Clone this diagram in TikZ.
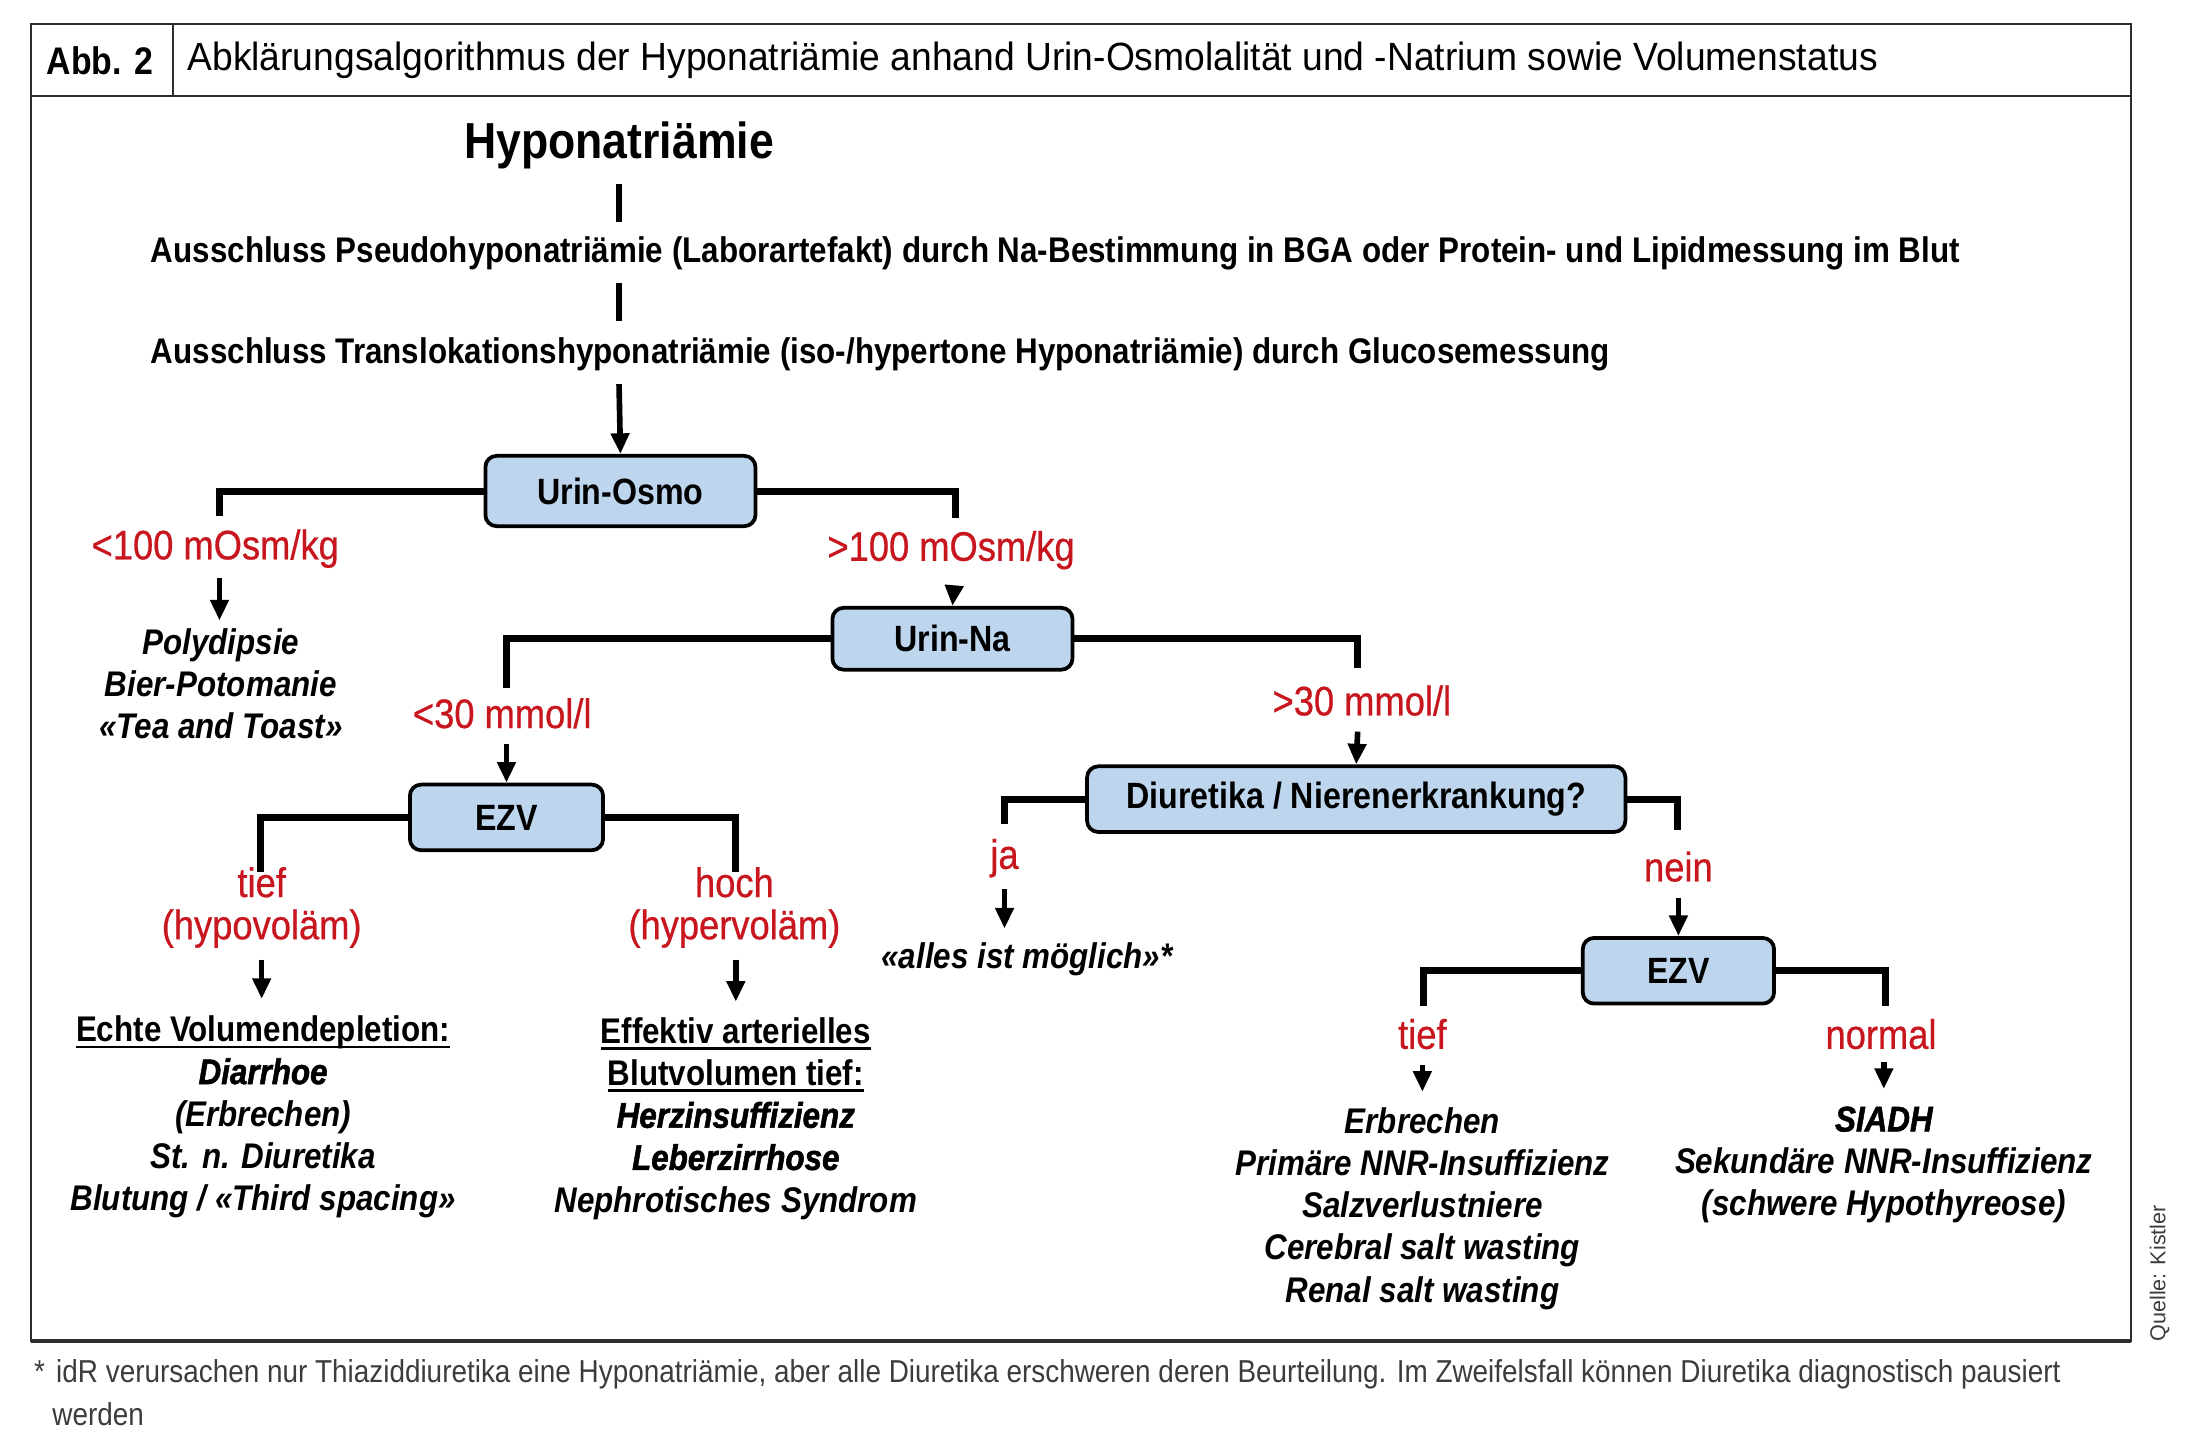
\documentclass[tikz,border=0pt]{standalone}
\usepackage{fontspec}
\newsavebox{\ulbox}
\newcommand\thickul[1]{\sbox{\ulbox}{#1}\leavevmode\rlap{\usebox{\ulbox}}\rule[-3.5pt]{\wd\ulbox}{1.5pt}}
\setmainfont{Liberation Sans}[FakeStretch=0.88]
\newfontfamily\emfont{Liberation Sans}[FakeStretch=0.88,FakeBold=1.5]
\newfontfamily\redfont{Liberation Sans}[FakeStretch=0.88,FakeBold=0.6]
\newfontfamily\capfont{Liberation Sans}[FakeStretch=0.945]
\newfontfamily\plainfont{Liberation Sans}
\usetikzlibrary{arrows.meta}
\definecolor{redlab}{RGB}{200,22,30}
\definecolor{boxblue}{RGB}{189,214,238}
\definecolor{framegray}{RGB}{45,45,45}
\definecolor{footgray}{RGB}{60,60,60}
\begin{document}
\begin{tikzpicture}[x=0.75pt,y=-0.75pt,
  box/.style={draw=black,line width=2pt,fill=boxblue,rounded corners=6pt,inner sep=0pt,
     font=\fontsize{19.5}{21}\selectfont\bfseries},
  redl/.style={text=redlab,font=\redfont\fontsize{22}{22.5}\selectfont,inner sep=0pt},
  item/.style={align=center,inner sep=0pt,font=\fontsize{19}{22.5}\selectfont\bfseries\itshape},
  mainl/.style={anchor=west,inner sep=0pt,font=\fontsize{19}{21}\selectfont\bfseries},
  branch/.style={line width=3.75pt,line cap=butt},
  arr/.style={line width=3pt,-{Triangle[width=9.5pt,length=11pt]}},
  dashline/.style={line width=3pt}]
\useasboundingbox (0,0) rectangle (1568,1026);
% frame
\draw[framegray,line width=1.1pt] (22,17) rectangle (1515,953);
\draw[framegray,line width=1.1pt] (22,68) -- (1515,68);
\draw[framegray,line width=1.1pt] (123,17) -- (123,68);
\draw[framegray,line width=2.4pt] (22,953) -- (1515,953);
\node[anchor=center,inner sep=0pt,font=\fontsize{20.5}{22}\selectfont\bfseries] (abb) at (71,43) {Abb. 2};
\node[anchor=west,inner sep=0pt,font=\capfont\fontsize{21}{23}\selectfont] (cap) at (133,43) {Abklärungsalgorithmus der Hyponatriämie anhand Urin-Osmolalität und -Natrium sowie Volumenstatus};
% top
\node[inner sep=0pt,font=\fontsize{27}{29}\selectfont\bfseries] (hypo) at (440,103) {Hyponatriämie};
\coordinate (d1a) at (440,131); \coordinate (d1b) at (440,158);
\draw[dashline] (d1a) -- (d1b);
\node[mainl] (pseudo) at (107,180) {Ausschluss Pseudohyponatriämie (Laborartefakt) durch Na-Bestimmung in BGA oder Protein- und Lipidmessung im Blut};
\coordinate (d2a) at (440,201); \coordinate (d2b) at (440,228);
\draw[dashline] (d2a) -- (d2b);
\node[mainl] (trans) at (107,252) {Ausschluss Translokationshyponatriämie (iso-/hypertone Hyponatriämie) durch Glucosemessung};
% Urin-Osmo
\node[box,minimum width=144pt,minimum height=37.5pt] (uo) at (441,349) {Urin-Osmo};
\coordinate (a0) at (440,273);
\draw[arr] (a0) -- (uo.north);
\coordinate (uoL) at (156,367); \coordinate (uoR) at (679,368);
\draw[branch] (uo.west) -| (uoL);
\draw[branch] (uo.east) -| (uoR);
\node[redl] (lt100) at (153,390) {<100 mOsm/kg};
\node[redl] (gt100) at (676,391) {>100 mOsm/kg};
\coordinate (a1s) at (156,411); \coordinate (a1e) at (156,441);
\draw[arr] (a1s) -- (a1e);
\node[item] (poly) at (157,486) {Polydipsie\\Bier-Potomanie\\«Tea and Toast»};
% Urin-Na
\node[box,minimum width=128pt,minimum height=33pt] (un) at (677,454) {Urin-Na};
\coordinate (a2s) at (678,419);
\draw[arr] (a2s) -- (un.north);
\coordinate (unL) at (360,489); \coordinate (unR) at (965,475);
\draw[branch] (un.west) -| (unL);
\draw[branch] (un.east) -| (unR);
\node[redl] (lt30) at (357,507) {<30 mmol/l};
\node[redl] (gt30) at (968,498) {>30 mmol/l};
% EZV 1
\node[box,minimum width=103pt,minimum height=35pt] (ezv1) at (360,581) {EZV};
\coordinate (a3s) at (360,529);
\draw[arr] (a3s) -- (ezv1.north);
\coordinate (e1L) at (185,620); \coordinate (e1R) at (523,620);
\draw[branch] (ezv1.west) -| (e1L);
\draw[branch] (ezv1.east) -| (e1R);
\node[redl,align=center] (tief1) at (186,645) {tief\\(hypovoläm)};
\node[redl,align=center] (hoch1) at (522,645) {hoch\\(hypervoläm)};
\coordinate (a4s) at (186,682); \coordinate (a4e) at (186,710);
\draw[arr] (a4s) -- (a4e);
\coordinate (a5s) at (523,682); \coordinate (a5e) at (523,712);
\draw[arr] (a5s) -- (a5e);
\node[item] (echte) at (187,794) {\upshape\thickul{Echte Volumendepletion:}\\{\emfont\bfseries\itshape Diarrhoe}\\(Erbrechen)\\St. n. Diuretika\\Blutung / «Third spacing»};
\node[item] (eff) at (523,795) {\upshape\thickul{Effektiv arterielles}\\\upshape\thickul{Blutvolumen tief:}\\{\emfont\bfseries\itshape Herzinsuffizienz}\\{\emfont\bfseries\itshape Leberzirrhose}\\Nephrotisches Syndrom};
% Diuretika
\node[box,minimum width=287pt,minimum height=35pt] (diu) at (964,568) {Diuretika / Nierenerkrankung?};
\coordinate (a6s) at (965,520);
\draw[arr] (a6s) -- (diu.north);
\coordinate (dL) at (714,586); \coordinate (dR) at (1192,590);
\draw[branch] (diu.west) -| (dL);
\draw[branch] (diu.east) -| (dR);
\node[redl] (ja) at (714,610) {ja};
\node[redl] (nein) at (1193,616) {nein};
\coordinate (a7s) at (714,632); \coordinate (a7e) at (714,660);
\draw[arr] (a7s) -- (a7e);
\node[item] (alles) at (730,682) {«alles ist möglich»*};
% EZV 2
\node[box,minimum width=102pt,minimum height=35pt] (ezv2) at (1193,690) {EZV};
\coordinate (a8s) at (1193,638);
\draw[arr] (a8s) -- (ezv2.north);
\coordinate (e2L) at (1012,715); \coordinate (e2R) at (1340,715);
\draw[branch] (ezv2.west) -| (e2L);
\draw[branch] (ezv2.east) -| (e2R);
\node[redl] (tief2) at (1011,735) {tief};
\node[redl] (normal) at (1337,735) {normal};
\coordinate (a9s) at (1011,757); \coordinate (a9e) at (1011,776);
\draw[arr] (a9s) -- (a9e);
\coordinate (a10s) at (1339,755); \coordinate (a10e) at (1339,774);
\draw[arr] (a10s) -- (a10e);
\node[item] (erb) at (1011,859) {Erbrechen\\Primäre NNR-Insuffizienz\\Salzverlustniere\\Cerebral salt wasting\\Renal salt wasting};
\node[item] (siadh) at (1339,828) {{\emfont\bfseries\itshape SIADH}\\Sekundäre NNR-Insuffizienz\\(schwere Hypothyreose)};
% source
\node[rotate=90,inner sep=0pt,text=footgray,font=\plainfont\fontsize{11.5}{13}\selectfont] (quelle) at (1535,905) {Quelle: Kistler};
% footnote
\node[anchor=west,inner sep=0pt,text=footgray,font=\fontsize{16.9}{19}\selectfont] (fn1) at (24,977) {*\hspace{6pt}idR verursachen nur Thiaziddiuretika eine Hyponatriämie, aber alle Diuretika erschweren deren Beurteilung. Im Zweifelsfall können Diuretika diagnostisch pausiert};
\node[anchor=west,inner sep=0pt,text=footgray,font=\fontsize{16.9}{19}\selectfont] (fn2) at (37,1005) {werden};
\end{tikzpicture}
\end{document}
